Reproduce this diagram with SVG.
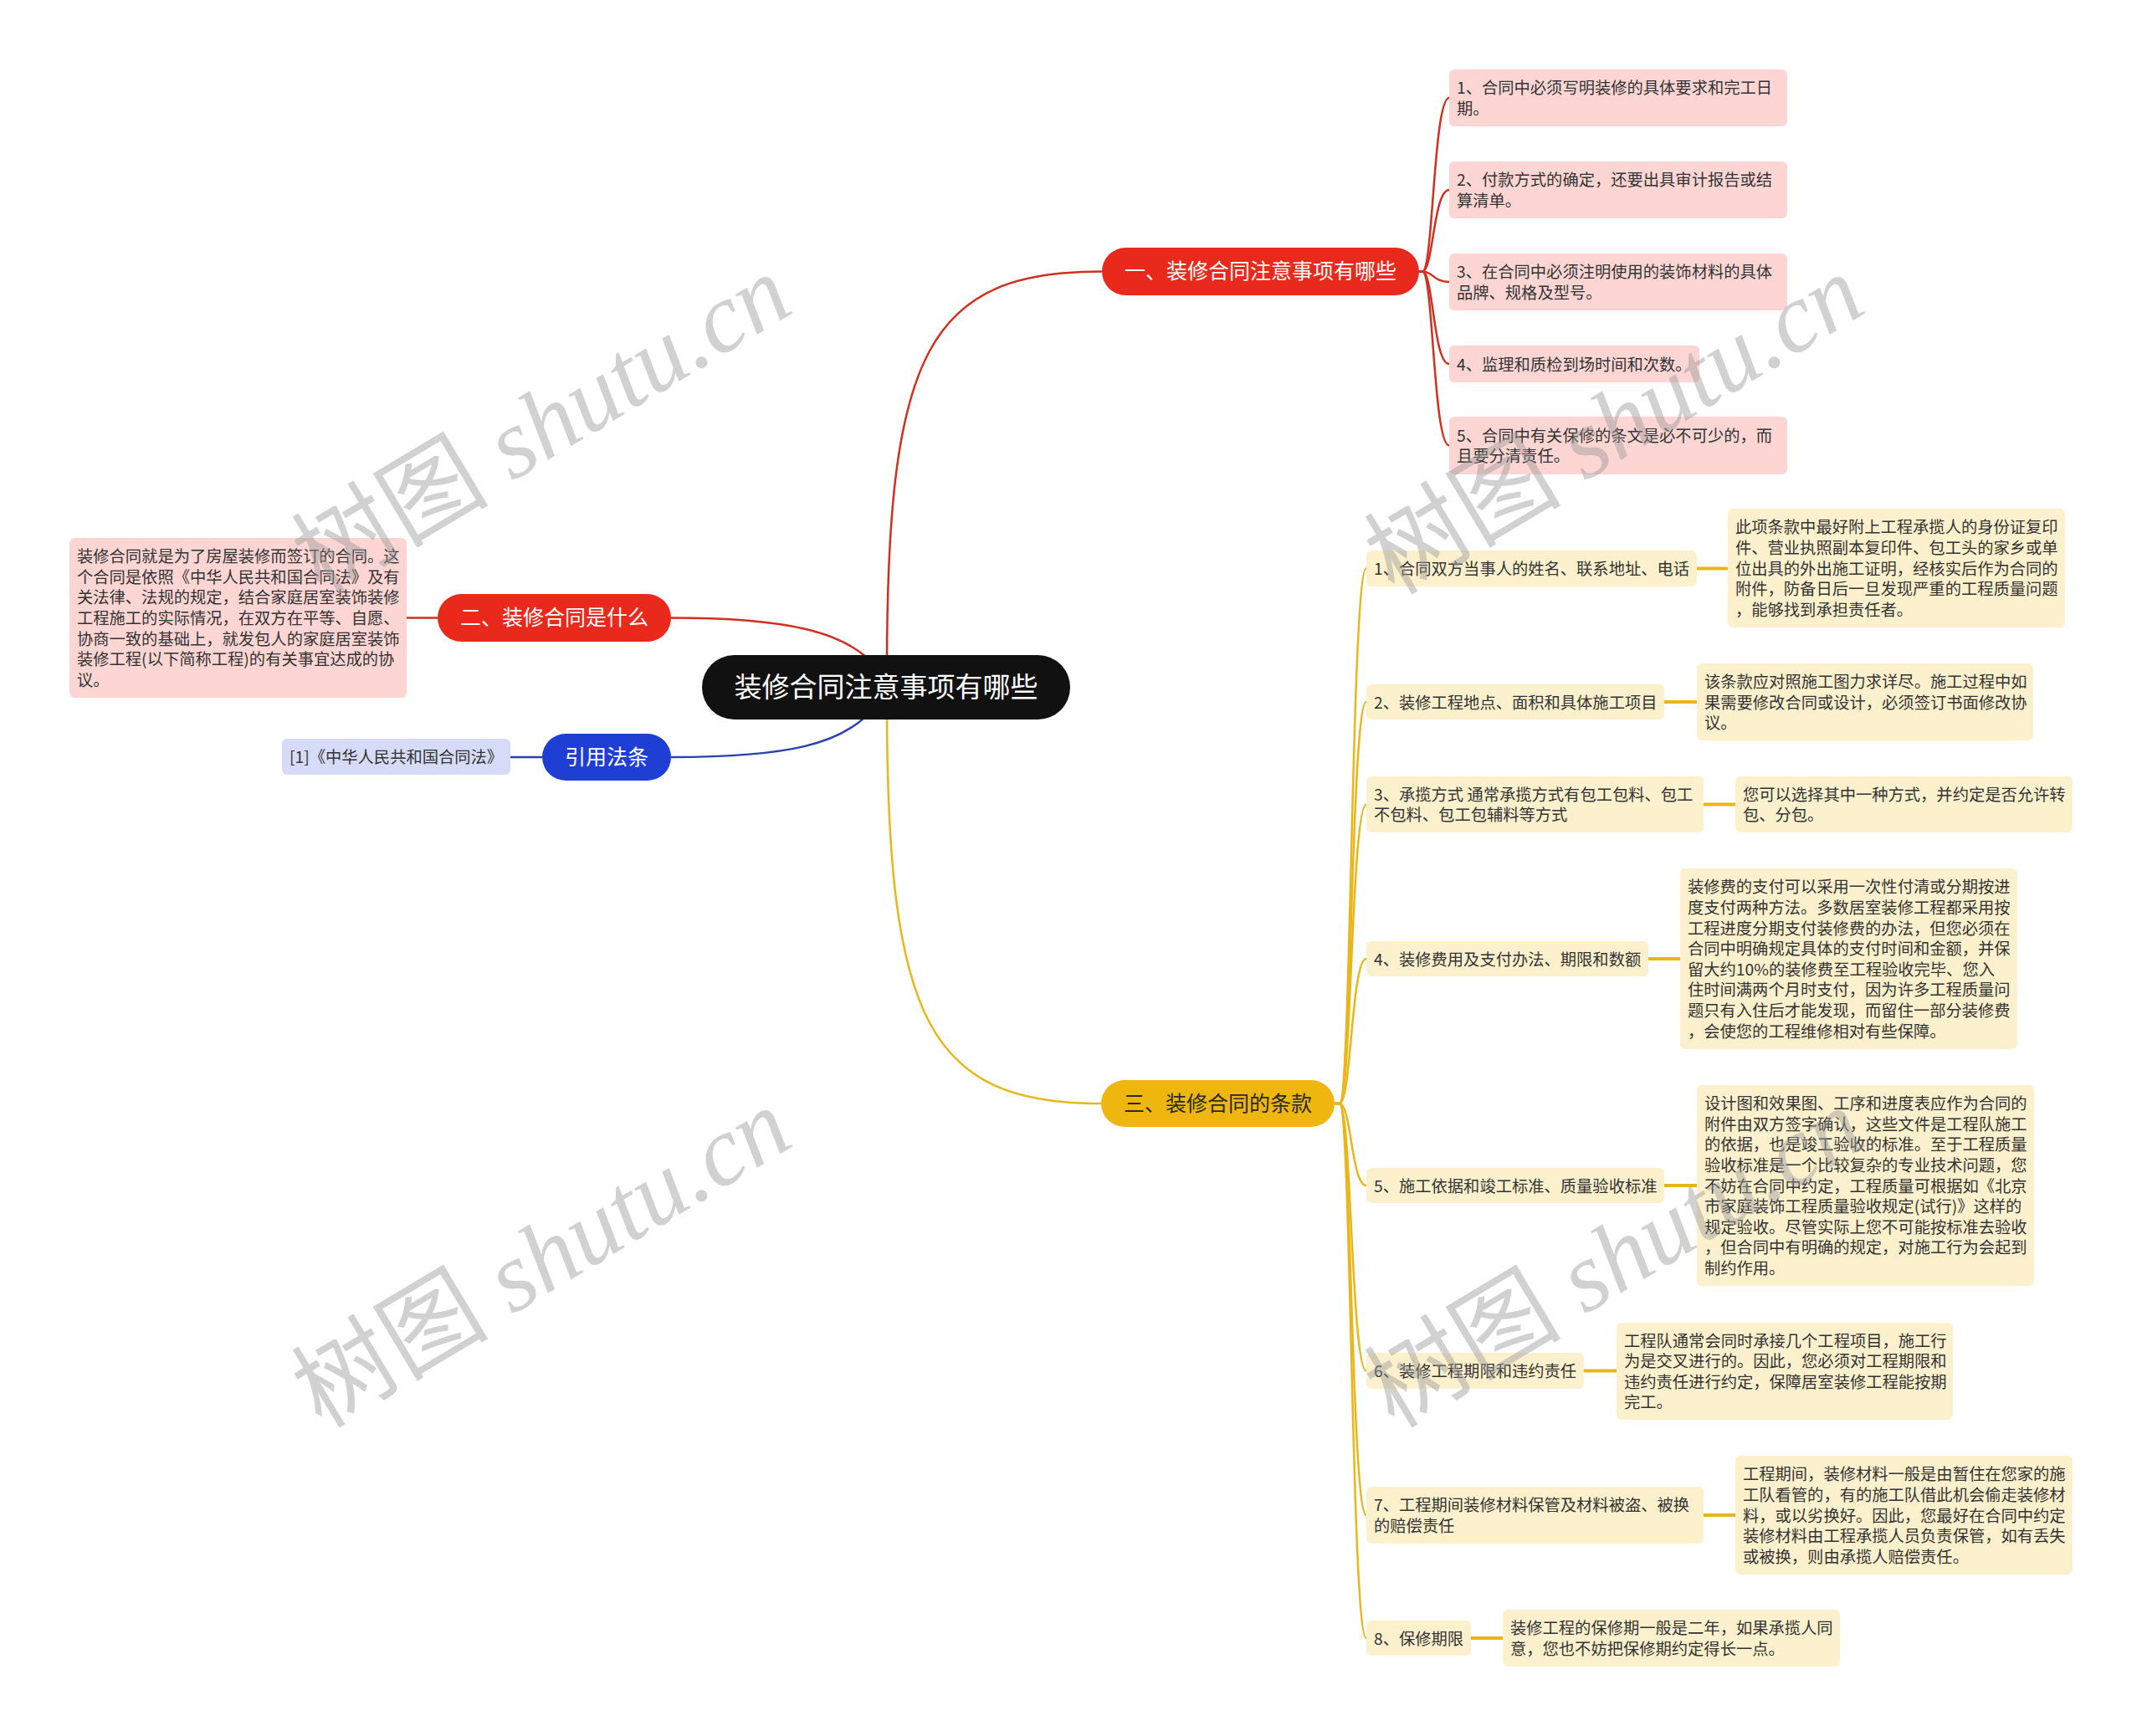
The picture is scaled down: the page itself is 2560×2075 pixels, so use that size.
<svg xmlns="http://www.w3.org/2000/svg" width="2560" height="2075" viewBox="0 0 2560 2075">
<style>
.t{font-family:"Noto Sans CJK SC","Noto Sans",sans-serif;font-size:19.3px;fill:#333}
.b{font-family:"Noto Sans CJK SC","Noto Sans",sans-serif;font-size:25px;fill:#fff;text-anchor:middle}
.r{font-family:"Noto Sans CJK SC","Noto Sans",sans-serif;font-size:33px;fill:#fff;text-anchor:middle}
.lr{fill:#fdd6d4}
.ly{fill:#fdf1cd}
.cr{fill:none;stroke:#d0301f;stroke-width:2.5}
.cy{fill:none;stroke:#e9b61a;stroke-width:2.5}
.cyt{fill:none;stroke:#e9b61a;stroke-width:4}
.cb{fill:none;stroke:#2a3fb0;stroke-width:2.5}
.wm{font-family:"Liberation Serif","Noto Sans CJK SC",serif;font-size:118px;fill:#9a9a9a;opacity:0.45}
</style>
<rect width="2560" height="2075" fill="#fff"/>
<g id="connectors">
<path class="cr" d="M1060,800 C1060,420 1110,324.5 1317,324.5"/>
<path class="cy" d="M1060,840 C1060,1220 1110,1319 1316,1319"/>
<path class="cr" d="M802,738.5 C940,738.5 1010,755 1045,795"/>
<path class="cb" d="M802,905 C940,905 1010,890 1045,845"/>
<path class="cr" d="M486,738.5 L523,738.5"/>
<path class="cb" d="M610,905 L648,905"/>
<path class="cr" d="M1696,324.5 L1700,324.5 C1713,324.5 1713,117 1732,117"/>
<path class="cr" d="M1696,324.5 L1700,324.5 C1713,324.5 1713,227 1732,227"/>
<path class="cr" d="M1696,324.5 L1700,324.5 C1713,324.5 1713,337 1732,337"/>
<path class="cr" d="M1696,324.5 L1700,324.5 C1713,324.5 1713,435 1732,435"/>
<path class="cr" d="M1696,324.5 L1700,324.5 C1713,324.5 1713,532.5 1732,532.5"/>
<path class="cy" d="M1595,1319 L1601,1319 C1615,1319 1615,679.5 1633,679.5"/>
<path class="cy" d="M1595,1319 L1601,1319 C1615,1319 1615,839 1633,839"/>
<path class="cy" d="M1595,1319 L1601,1319 C1615,1319 1615,961.5 1633,961.5"/>
<path class="cy" d="M1595,1319 L1601,1319 C1615,1319 1615,1146 1633,1146"/>
<path class="cy" d="M1595,1319 L1601,1319 C1615,1319 1615,1417 1633,1417"/>
<path class="cy" d="M1595,1319 L1601,1319 C1615,1319 1615,1638.5 1633,1638.5"/>
<path class="cy" d="M1595,1319 L1601,1319 C1615,1319 1615,1811 1633,1811"/>
<path class="cy" d="M1595,1319 L1601,1319 C1615,1319 1615,1958 1633,1958"/>
<path class="cyt" d="M2028,679.5 L2065,679.5"/>
<path class="cyt" d="M1989,839 L2028,839"/>
<path class="cyt" d="M2036,961.5 L2074,961.5"/>
<path class="cyt" d="M1970,1146 L2008,1146"/>
<path class="cyt" d="M1989,1417 L2028,1417"/>
<path class="cyt" d="M1893,1638.5 L1932,1638.5"/>
<path class="cyt" d="M2036,1811 L2074,1811"/>
<path class="cyt" d="M1758,1958 L1796,1958"/>
</g>
<g id="root"><rect x="839" y="783" width="440" height="77" rx="38.5" fill="#111"/><text class="r" x="1059" y="833">装修合同注意事项有哪些</text></g>
<g id="b1"><rect x="1317" y="296" width="379" height="57" rx="28.5" fill="#e8291c"/><text class="b" x="1506.5" y="333">一、装修合同注意事项有哪些</text></g>
<g id="b2"><rect x="523" y="710" width="279" height="57" rx="28.5" fill="#e8291c"/><text class="b" x="662.5" y="747">二、装修合同是什么</text></g>
<g id="b3"><rect x="648" y="877" width="154" height="56" rx="28" fill="#1f3fd4"/><text class="b" x="725" y="914">引用法条</text></g>
<g id="b4"><rect x="1316" y="1291" width="279" height="56" rx="28" fill="#efb60f"/><text class="b" x="1455.5" y="1328" style="fill:#2a2a2a">三、装修合同的条款</text></g>
<g id="l1"><rect class="lr" x="1732" y="83" width="404" height="68" rx="6"/><text class="t" x="1741" y="112">1、合同中必须写明装修的具体要求和完工日<tspan x="1741" dy="24.6">期。</tspan></text></g>
<g id="l2"><rect class="lr" x="1732" y="193" width="404" height="68" rx="6"/><text class="t" x="1741" y="222">2、付款方式的确定，还要出具审计报告或结<tspan x="1741" dy="24.6">算清单。</tspan></text></g>
<g id="l3"><rect class="lr" x="1732" y="303" width="404" height="68" rx="6"/><text class="t" x="1741" y="332">3、在合同中必须注明使用的装饰材料的具体<tspan x="1741" dy="24.6">品牌、规格及型号。</tspan></text></g>
<g id="l4"><rect class="lr" x="1732" y="413" width="299" height="44" rx="6"/><text class="t" x="1741" y="442.5">4、监理和质检到场时间和次数。</text></g>
<g id="l5"><rect class="lr" x="1732" y="498" width="404" height="69" rx="6"/><text class="t" x="1741" y="527.7">5、合同中有关保修的条文是必不可少的，而<tspan x="1741" dy="24.6">且要分清责任。</tspan></text></g>
<g id="def"><rect class="lr" x="83" y="643" width="403" height="191" rx="6"/><text class="t" x="92" y="672.2">装修合同就是为了房屋装修而签订的合同。这<tspan x="92" dy="24.6">个合同是依照《中华人民共和国合同法》及有</tspan><tspan x="92" dy="24.6">关法律、法规的规定，结合家庭居室装饰装修</tspan><tspan x="92" dy="24.6">工程施工的实际情况，在双方在平等、自愿、</tspan><tspan x="92" dy="24.6">协商一致的基础上，就发包人的家庭居室装饰</tspan><tspan x="92" dy="24.6">装修工程(以下简称工程)的有关事宜达成的协</tspan><tspan x="92" dy="24.6">议。</tspan></text></g>
<g id="cite"><rect x="337" y="883" width="273" height="43" rx="6" fill="#d6dbf7"/><text class="t" x="346" y="912">[1]《中华人民共和国合同法》</text></g>
<g id="i1"><rect class="ly" x="1633" y="658" width="395" height="43" rx="6"/><text class="t" x="1642" y="687">1、合同双方当事人的姓名、联系地址、电话</text></g>
<g id="d1"><rect class="ly" x="2065" y="608" width="403" height="142" rx="6"/><text class="t" x="2074" y="637.3">此项条款中最好附上工程承揽人的身份证复印<tspan x="2074" dy="24.6">件、营业执照副本复印件、包工头的家乡或单</tspan><tspan x="2074" dy="24.6">位出具的外出施工证明，经核实后作为合同的</tspan><tspan x="2074" dy="24.6">附件，防备日后一旦发现严重的工程质量问题</tspan><tspan x="2074" dy="24.6">，能够找到承担责任者。</tspan></text></g>
<g id="i2"><rect class="ly" x="1633" y="818" width="356" height="42" rx="6"/><text class="t" x="1642" y="846.5">2、装修工程地点、面积和具体施工项目</text></g>
<g id="d2"><rect class="ly" x="2028" y="793" width="402" height="92" rx="6"/><text class="t" x="2037" y="821.9">该条款应对照施工图力求详尽。施工过程中如<tspan x="2037" dy="24.6">果需要修改合同或设计，必须签订书面修改协</tspan><tspan x="2037" dy="24.6">议。</tspan></text></g>
<g id="i3"><rect class="ly" x="1633" y="928" width="403" height="67" rx="6"/><text class="t" x="1642" y="956.7">3、承揽方式 通常承揽方式有包工包料、包工<tspan x="1642" dy="24.6">不包料、包工包辅料等方式</tspan></text></g>
<g id="d3"><rect class="ly" x="2074" y="928" width="403" height="67" rx="6"/><text class="t" x="2083" y="956.7">您可以选择其中一种方式，并约定是否允许转<tspan x="2083" dy="24.6">包、分包。</tspan></text></g>
<g id="i4"><rect class="ly" x="1633" y="1125" width="337" height="42" rx="6"/><text class="t" x="1642" y="1153.5">4、装修费用及支付办法、期限和数额</text></g>
<g id="d4"><rect class="ly" x="2008" y="1038" width="403" height="216" rx="6"/><text class="t" x="2017" y="1067.4">装修费的支付可以采用一次性付清或分期按进<tspan x="2017" dy="24.6">度支付两种方法。多数居室装修工程都采用按</tspan><tspan x="2017" dy="24.6">工程进度分期支付装修费的办法，但您必须在</tspan><tspan x="2017" dy="24.6">合同中明确规定具体的支付时间和金额，并保</tspan><tspan x="2017" dy="24.6">留大约10%的装修费至工程验收完毕、您入</tspan><tspan x="2017" dy="24.6">住时间满两个月时支付，因为许多工程质量问</tspan><tspan x="2017" dy="24.6">题只有入住后才能发现，而留住一部分装修费</tspan><tspan x="2017" dy="24.6">，会使您的工程维修相对有些保障。</tspan></text></g>
<g id="i5"><rect class="ly" x="1633" y="1396" width="356" height="42" rx="6"/><text class="t" x="1642" y="1424.5">5、施工依据和竣工标准、质量验收标准</text></g>
<g id="d5"><rect class="ly" x="2028" y="1297" width="403" height="240" rx="6"/><text class="t" x="2037" y="1326.1">设计图和效果图、工序和进度表应作为合同的<tspan x="2037" dy="24.6">附件由双方签字确认，这些文件是工程队施工</tspan><tspan x="2037" dy="24.6">的依据，也是竣工验收的标准。至于工程质量</tspan><tspan x="2037" dy="24.6">验收标准是一个比较复杂的专业技术问题，您</tspan><tspan x="2037" dy="24.6">不妨在合同中约定，工程质量可根据如《北京</tspan><tspan x="2037" dy="24.6">市家庭装饰工程质量验收规定(试行)》这样的</tspan><tspan x="2037" dy="24.6">规定验收。尽管实际上您不可能按标准去验收</tspan><tspan x="2037" dy="24.6">，但合同中有明确的规定，对施工行为会起到</tspan><tspan x="2037" dy="24.6">制约作用。</tspan></text></g>
<g id="i6"><rect class="ly" x="1633" y="1617" width="260" height="43" rx="6"/><text class="t" x="1642" y="1646">6、装修工程期限和违约责任</text></g>
<g id="d6"><rect class="ly" x="1932" y="1581" width="402" height="116" rx="6"/><text class="t" x="1941" y="1609.6">工程队通常会同时承接几个工程项目，施工行<tspan x="1941" dy="24.6">为是交叉进行的。因此，您必须对工程期限和</tspan><tspan x="1941" dy="24.6">违约责任进行约定，保障居室装修工程能按期</tspan><tspan x="1941" dy="24.6">完工。</tspan></text></g>
<g id="i7"><rect class="ly" x="1633" y="1777" width="403" height="68" rx="6"/><text class="t" x="1642" y="1806.2">7、工程期间装修材料保管及材料被盗、被换<tspan x="1642" dy="24.6">的赔偿责任</tspan></text></g>
<g id="d7"><rect class="ly" x="2074" y="1740" width="403" height="142" rx="6"/><text class="t" x="2083" y="1769.3">工程期间，装修材料一般是由暂住在您家的施<tspan x="2083" dy="24.6">工队看管的，有的施工队借此机会偷走装修材</tspan><tspan x="2083" dy="24.6">料，或以劣换好。因此，您最好在合同中约定</tspan><tspan x="2083" dy="24.6">装修材料由工程承揽人员负责保管，如有丢失</tspan><tspan x="2083" dy="24.6">或被换，则由承揽人赔偿责任。</tspan></text></g>
<g id="i8"><rect class="ly" x="1633" y="1937" width="125" height="42" rx="6"/><text class="t" x="1642" y="1965.5">8、保修期限</text></g>
<g id="d8"><rect class="ly" x="1796" y="1924" width="403" height="68" rx="6"/><text class="t" x="1805" y="1953.2">装修工程的保修期一般是二年，如果承揽人同<tspan x="1805" dy="24.6">意，您也不妨把保修期约定得长一点。</tspan></text></g>
<g id="watermarks">
<text class="wm" transform="translate(668,542) rotate(-31)" text-anchor="middle"><tspan font-family="Noto Sans CJK SC">树图</tspan> <tspan font-style="italic">shutu.cn</tspan></text>
<text class="wm" transform="translate(668,1538) rotate(-31)" text-anchor="middle"><tspan font-family="Noto Sans CJK SC">树图</tspan> <tspan font-style="italic">shutu.cn</tspan></text>
<text class="wm" transform="translate(1950,542) rotate(-31)" text-anchor="middle"><tspan font-family="Noto Sans CJK SC">树图</tspan> <tspan font-style="italic">shutu.cn</tspan></text>
<text class="wm" transform="translate(1950,1538) rotate(-31)" text-anchor="middle"><tspan font-family="Noto Sans CJK SC">树图</tspan> <tspan font-style="italic">shutu.cn</tspan></text>
</g>
</svg>
